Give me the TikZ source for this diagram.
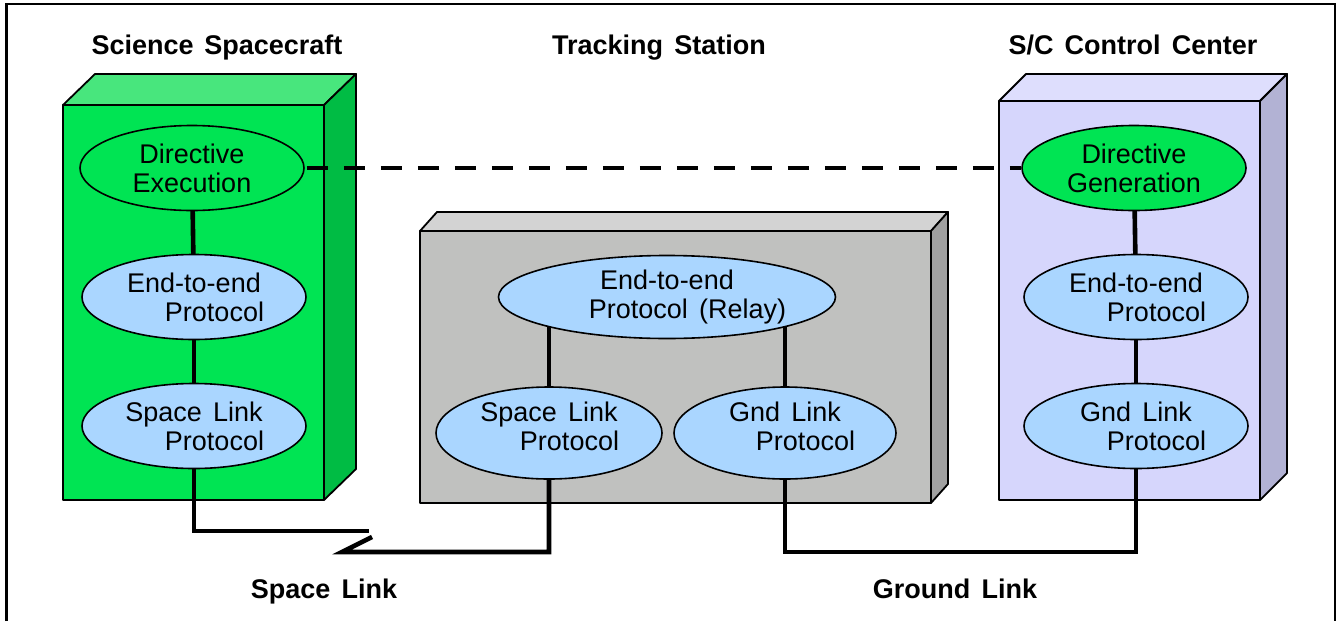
\documentclass[tikz,border=0pt]{standalone}
\usepackage{fontspec}
\setmainfont[WordSpace=1.5]{Liberation Sans}
\usetikzlibrary{shapes.geometric}

\definecolor{scFront}{RGB}{0,228,83}
\definecolor{scTop}{RGB}{72,230,125}
\definecolor{scSide}{RGB}{0,188,68}
\definecolor{tsFront}{RGB}{192,193,191}
\definecolor{tsTop}{RGB}{211,211,211}
\definecolor{tsSide}{RGB}{160,160,160}
\definecolor{ccFront}{RGB}{214,214,252}
\definecolor{ccTop}{RGB}{222,222,253}
\definecolor{ccSide}{RGB}{178,178,212}
\definecolor{protoBlue}{RGB}{170,214,255}
\definecolor{dirGreen}{RGB}{0,228,83}

\pgfdeclarelayer{blocks}
\pgfdeclarelayer{wires}
\pgfsetlayers{blocks,wires,main}

\tikzset{
  proto/.style={ellipse, draw=black, line width=1.6pt, fill=protoBlue,
    minimum width=224pt, minimum height=85pt, inner sep=0pt},
  directive/.style={proto, fill=dirGreen},
  ptext/.style={font=\fontsize{27}{29}\selectfont, align=center, inner sep=0pt},
  heading/.style={font=\fontsize{27}{29}\selectfont\bfseries, inner sep=0pt, anchor=base},
  wire/.style={line width=4.6pt},
  face/.style={draw=black, line width=1.8pt, line join=round},
}

\begin{document}
\begin{tikzpicture}[x=1pt, y=-1pt]
\useasboundingbox (0,0) rectangle (1338,621);

% frame
\draw[line width=2.2pt] (6.5,621) -- (6.5,4) -- (1335,4) -- (1335,621);

% three solid blocks
\begin{pgfonlayer}{blocks}
  % science spacecraft
  \filldraw[face, fill=scFront] (63,105) rectangle (324,500);
  \filldraw[face, fill=scTop] (63,105) -- (95,74) -- (356,74) -- (324,105) -- cycle;
  \filldraw[face, fill=scSide] (324,105) -- (356,74) -- (356,469) -- (324,500) -- cycle;
  % tracking station
  \filldraw[face, fill=tsFront] (420,231) rectangle (931,503);
  \filldraw[face, fill=tsTop] (420,231) -- (437,212) -- (948,212) -- (931,231) -- cycle;
  \filldraw[face, fill=tsSide] (931,231) -- (948,212) -- (948,484) -- (931,503) -- cycle;
  % control center
  \filldraw[face, fill=ccFront] (999,101) rectangle (1260,500);
  \filldraw[face, fill=ccTop] (999,101) -- (1026,74) -- (1287,74) -- (1260,101) -- cycle;
  \filldraw[face, fill=ccSide] (1260,101) -- (1287,74) -- (1287,473) -- (1260,500) -- cycle;
\end{pgfonlayer}

% headings
\node[heading] (hsc) at (217,54) {Science\hspace{0.4em}Spacecraft};
\node[heading] (hts) at (659,54) {Tracking Station};
\node[heading] (hcc) at (1133,54) {S/C Control Center};
\node[heading] (hsl) at (324,598) {Space Link};
\node[heading] (hgl) at (955,598) {Ground Link};

% science spacecraft stack
\node[directive] (de) at (192,168) {};
\node[ptext] (de-t) at (de) {Directive\\Execution};
\node[proto] (se) at (194,297) {};
\node[ptext] (se-t) at (se) {End-to-end\\\hspace*{41pt}Protocol};
\node[proto] (ss) at (194,426) {};
\node[ptext] (ss-t) at (ss) {Space Link\\\hspace*{41pt}Protocol};

% tracking station stack
\node[proto, minimum width=337pt, minimum height=83pt] (tr) at (667,297) {};
\node[ptext] (tr-t) at (tr) {End-to-end\\\hspace*{41pt}Protocol (Relay)};
\node[proto, minimum width=226pt, minimum height=92pt] (ts) at (549,433) {};
\node[ptext] (ts-t) at ([yshift=7pt]ts.center) {Space Link\\\hspace*{41pt}Protocol};
\node[proto, minimum width=222pt, minimum height=92pt] (tg) at (785,433) {};
\node[ptext] (tg-t) at ([yshift=7pt]tg.center) {Gnd Link\\\hspace*{41pt}Protocol};

% control center stack
\node[directive] (dg) at (1134,168) {};
\node[ptext] (dg-t) at (dg) {Directive\\Generation};
\node[proto] (ce) at (1136,297) {};
\node[ptext] (ce-t) at (ce) {End-to-end\\\hspace*{41pt}Protocol};
\node[proto] (cg) at (1136,426) {};
\node[ptext] (cg-t) at (cg) {Gnd Link\\\hspace*{41pt}Protocol};

% break points of the space link
\coordinate (slA) at (369,531);
\coordinate (slB) at (372,537);
\coordinate (slC) at (342,552);

\begin{pgfonlayer}{wires}
  % layer connections
  \draw[wire] (de.center) -- (se.center);
  \draw[wire] (se.center) -- (ss.center);
  \draw[wire] (dg.center) -- (ce.center);
  \draw[wire] (ce.center) -- (cg.center);
  \draw[wire] (ts.center) -- (ts.center |- tr.center);
  \draw[wire] (tg.center) -- (tg.center |- tr.center);
  % peer directive link
  \draw[wire, dash pattern=on 21pt off 16pt, dash phase=-2pt] (de.east) -- (dg.west);
  % space link
  \draw[wire] (ss.center) |- (slA);
  \draw[wire] (slB) -- (slC) -| (ts.center);
  % ground link
  \draw[wire] (tg.center) -- ++(0,119) -| (cg.center);
\end{pgfonlayer}
\end{tikzpicture}
\end{document}
